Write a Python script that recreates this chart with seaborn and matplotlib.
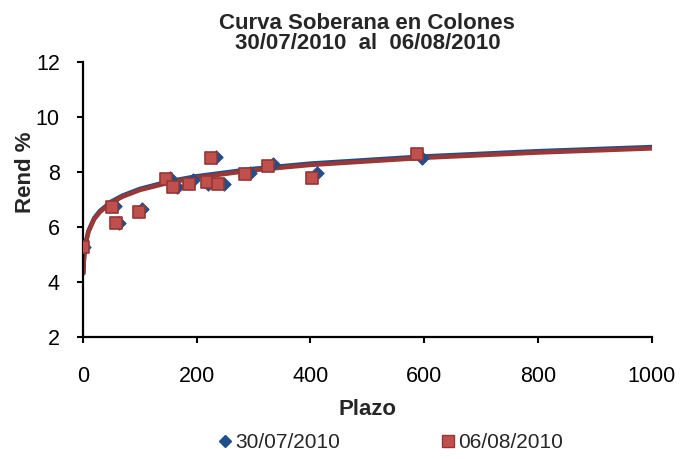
import numpy as np
import pandas as pd
import seaborn as sns
import matplotlib.pyplot as plt
from matplotlib.lines import Line2D

# Data (plazo in days, rendimiento %)
plazo_3007 = [2, 56, 64, 104, 153, 165, 193, 220, 234, 248, 293, 334, 411, 596]
rend_3007 = [5.27, 6.75, 6.15, 6.65, 7.78, 7.45, 7.7, 7.55, 8.55, 7.55, 7.95, 8.28, 7.95, 8.52]

plazo_0608 = [1, 51, 58, 99, 146, 159, 187, 218, 225, 237, 285, 326, 402, 588]
rend_0608 = [5.26, 6.71, 6.14, 6.56, 7.73, 7.45, 7.57, 7.64, 8.51, 7.55, 7.93, 8.23, 7.79, 8.63]

# logarithmic trend lines at these plazos
trend_x = [1, 2, 3, 5, 10, 20, 30, 50, 70, 100, 150, 200, 300, 400, 600, 800, 1000]
trend_3007 = [4.33, 4.80, 5.06, 5.40, 5.86, 6.32, 6.58, 6.92, 7.14, 7.38, 7.65, 7.84,
              8.11, 8.30, 8.56, 8.75, 8.90]
trend_0608 = [4.31, 4.77, 5.03, 5.37, 5.82, 6.28, 6.54, 6.88, 7.10, 7.34, 7.60, 7.79,
              8.06, 8.25, 8.51, 8.70, 8.85]

labels = ["30/07/2010", "06/08/2010"]

pts = pd.concat([
    pd.DataFrame({"plazo": plazo_3007, "rend": rend_3007, "fecha": labels[0]}),
    pd.DataFrame({"plazo": plazo_0608, "rend": rend_0608, "fecha": labels[1]}),
])
trend = pd.concat([
    pd.DataFrame({"plazo": trend_x, "rend": trend_3007, "fecha": labels[0]}),
    pd.DataFrame({"plazo": trend_x, "rend": trend_0608, "fecha": labels[1]}),
])

blue = "#1F4E8C"
red = "#C0504D"
red_edge = "#943634"
red_line = "#993834"

sns.set_style("ticks")
plt.rcParams["font.family"] = ["Liberation Sans", "DejaVu Sans"]

fig = plt.figure(figsize=(6.9, 4.59), dpi=100)
ax = fig.add_axes([0.1199, 0.265, 0.825, 0.601])

sns.lineplot(data=trend, x="plazo", y="rend", hue="fecha",
             palette={labels[0]: blue, labels[1]: red_line}, lw=3.2, ax=ax,
             legend=False, zorder=2)

sns.scatterplot(data=pts[pts.fecha == labels[0]], x="plazo", y="rend", marker="D", s=45,
                color=blue, edgecolor=blue, linewidth=0.8, ax=ax, zorder=3, legend=False)
sns.scatterplot(data=pts[pts.fecha == labels[1]], x="plazo", y="rend", marker="s", s=80,
                color=red, edgecolor=red_edge, linewidth=1.2, ax=ax, zorder=3, legend=False)

ax.set_xlim(0, 1000)
ax.set_ylim(2, 12)
ax.set_xticks([0, 200, 400, 600, 800, 1000])
ax.set_yticks([2, 4, 6, 8, 10, 12])
ax.tick_params(labelsize=15.5, width=1.5, length=4.5, color="black", labelcolor="black")
ax.tick_params(axis="x", pad=16)
ax.tick_params(axis="y", pad=12)
for s in ["left", "bottom"]:
    ax.spines[s].set_linewidth(1.6)
    ax.spines[s].set_color("black")
sns.despine(ax=ax)

ax.set_xlabel("Plazo", fontsize=16, fontweight="bold")
ax.xaxis.set_label_coords(0.5, -0.225)
ax.set_ylabel("Rend %", fontsize=16, fontweight="bold")
ax.yaxis.set_label_coords(-0.082, 0.60)
ax.set_title("Curva Soberana en Colones\n30/07/2010  al  06/08/2010",
             fontsize=16, fontweight="bold", pad=9, linespacing=0.95)

handles = [
    Line2D([], [], ls="none", marker="D", color=blue, ms=6),
    Line2D([], [], ls="none", marker="s", color=red, mec=red_edge, ms=9),
]
fig.legend(handles, labels, loc="center", bbox_to_anchor=(0.565, 0.035), ncol=2,
           frameon=False, fontsize=15, columnspacing=4.8, handletextpad=0.1,
           handlelength=0.8, borderpad=0)

fig.savefig("out.png", dpi=100)
